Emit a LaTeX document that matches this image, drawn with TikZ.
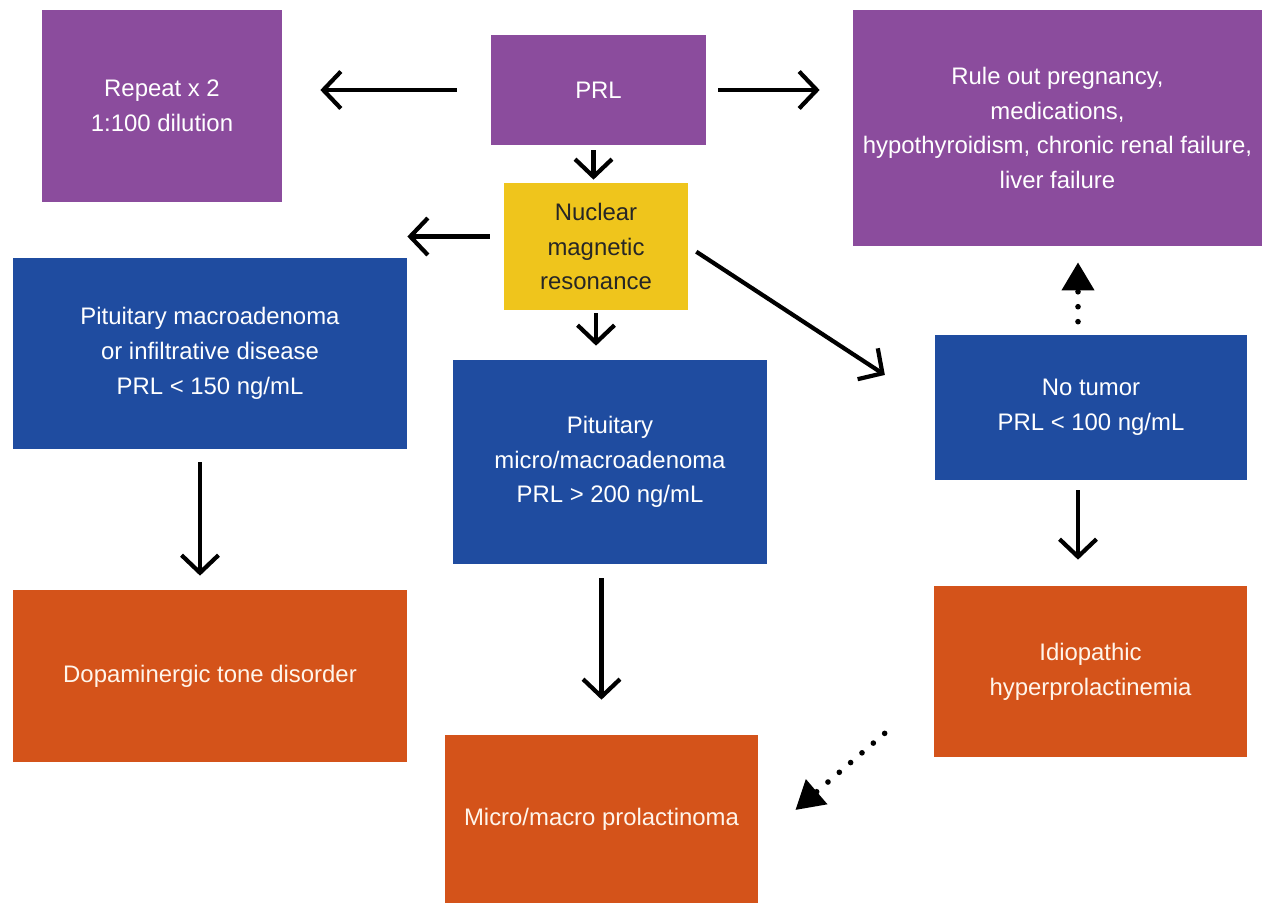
\documentclass[tikz,border=0pt]{standalone}
\usepackage{fontspec}
\setmainfont{Liberation Sans}
\usetikzlibrary{arrows.meta,calc}
\definecolor{boxpurple}{RGB}{139,76,157}
\definecolor{boxyellow}{RGB}{239,197,28}
\definecolor{boxblue}{RGB}{31,76,160}
\definecolor{boxorange}{RGB}{212,83,26}
\begin{document}
\begin{tikzpicture}[
	box/.style={rectangle, inner sep=0pt, align=center, text=white, font=\fontsize{13.6}{19.8}\selectfont},
	purplebox/.style={box, fill=boxpurple},
	bluebox/.style={box, fill=boxblue},
	orangebox/.style={box, fill=boxorange, text=orange!8},
	yellowbox/.style={box, fill=boxyellow, text=black!85},
	flow/.style={line width=2.4pt, -{Straight Barb[length=10pt, width=21pt, line width=2.4pt]}},
	dotflow/.style={line width=3.2pt, line cap=round, dash pattern=on 0pt off 8.5pt, -{Triangle[length=16pt, width=18pt]}}
]
\useasboundingbox (0,0) rectangle (25.26,-18.06);
\node[purplebox, minimum width=4.80cm, minimum height=3.84cm] (rep) at (3.24,-2.12) {Repeat x 2\\1:100 dilution};
\node[purplebox, minimum width=4.30cm, minimum height=2.20cm] (prl) at (11.97,-1.80) {PRL};
\node[purplebox, minimum width=8.18cm, minimum height=4.72cm] (rule) at (21.15,-2.56) {Rule out pregnancy,\\medications,\\hypothyroidism, chronic renal failure,\\liver failure};
\node[yellowbox, minimum width=3.68cm, minimum height=2.54cm] (nmr) at (11.92,-4.93) {Nuclear\\magnetic\\resonance};
\node[bluebox, minimum width=7.88cm, minimum height=3.82cm] (pmac) at (4.20,-7.07) {Pituitary macroadenoma\\or infiltrative disease\\PRL < 150 ng/mL};
\node[bluebox, minimum width=6.28cm, minimum height=4.08cm] (pmic) at (12.20,-9.24) {Pituitary\\micro/macroadenoma\\PRL > 200 ng/mL};
\node[bluebox, minimum width=6.24cm, minimum height=2.90cm] (notum) at (21.82,-8.15) {No tumor\\PRL < 100 ng/mL};
\node[orangebox, minimum width=7.88cm, minimum height=3.44cm] (dopa) at (4.20,-13.52) {Dopaminergic tone disorder};
\node[orangebox, minimum width=6.26cm, minimum height=3.36cm] (proa) at (12.03,-16.38) {Micro/macro prolactinoma};
\node[orangebox, minimum width=6.26cm, minimum height=3.42cm] (idio) at (21.81,-13.43) {Idiopathic\\hyperprolactinemia};
\draw[flow, shorten <=0.68cm, shorten >=0.76cm] (prl.west) -- (prl.west -| rep.east);
\draw[flow, shorten <=0.24cm, shorten >=0.66cm] (prl.east) -- (prl.east -| rule.west);
\draw[flow, shorten <=0.1cm, shorten >=0.06cm] ([xshift=-0.1cm]prl.south) -- ([xshift=-0.1cm]prl.south |- nmr.north);
\draw[flow, shorten <=0.28cm, shorten >=0.0cm] ([yshift=0.2cm]nmr.west) -- ([yshift=0.2cm]nmr.west -| pmac.east);
\draw[flow, shorten <=0.06cm, shorten >=0.28cm] (nmr.south) -- (nmr.south |- pmic.north);
\draw[flow, shorten <=0.19cm, shorten >=1.19cm] (nmr.east) -- (notum.west);
\draw[flow, shorten <=0.26cm, shorten >=0.28cm] ([xshift=-0.2cm]pmac.south) -- ([xshift=-0.2cm]pmac.south |- dopa.north);
\draw[flow, shorten <=0.28cm, shorten >=0.7cm] (proa.north |- pmic.south) -- (proa.north);
\draw[flow, shorten <=0.2cm, shorten >=0.52cm] ([xshift=-0.26cm]notum.south) -- ([xshift=-0.26cm]notum.south |- idio.north);
\draw[dotflow, shorten <=0.26cm, shorten >=0.32cm] ([xshift=-0.26cm]notum.north) -- ([xshift=-0.26cm]notum.north |- rule.south);
\draw[dotflow] ($(idio.south west)+(-0.98,0.48)$) -- ($(proa.east)+(0.74,0.18)$);
\end{tikzpicture}
\end{document}
